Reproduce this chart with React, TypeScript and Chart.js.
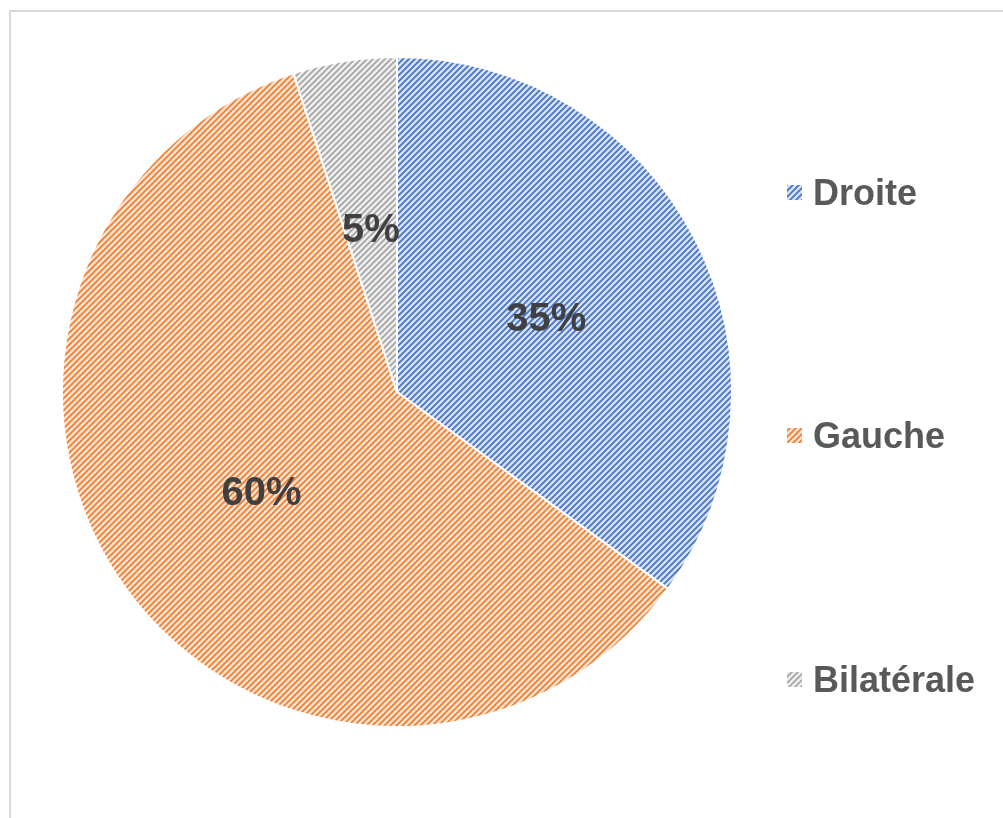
import React, { useEffect, useRef } from "react";
import { Chart, registerables } from "chart.js";

Chart.register(...registerables);

const categories = ["Droite", "Gauche", "Bilatérale"];
const values = [35, 60, 5];
const fgColors = ["#4472C4", "#ED7D31", "#A5A5A5"];
const bgColors = ["#d5e0f6", "#fde2d0", "#eeeeee"];

function makePattern(fg: string, bg: string): CanvasPattern | string {
  const size = 6;
  const c = document.createElement("canvas");
  c.width = size;
  c.height = size;
  const ctx = c.getContext("2d");
  if (!ctx) return fg;
  ctx.fillStyle = bg;
  ctx.fillRect(0, 0, size, size);
  ctx.strokeStyle = fg;
  ctx.lineWidth = 1.7;
  ctx.beginPath();
  ctx.moveTo(-1, size + 1);
  ctx.lineTo(size + 1, -1);
  ctx.moveTo(-2, 2);
  ctx.lineTo(2, -2);
  ctx.moveTo(size - 2, size + 2);
  ctx.lineTo(size + 2, size - 2);
  ctx.stroke();
  const p = ctx.createPattern(c, "repeat");
  return p || fg;
}

const FONT = '"Liberation Sans", Arial, sans-serif';

export default function App() {
  const ref = useRef<HTMLCanvasElement | null>(null);

  useEffect(() => {
    if (!ref.current) return;
    const patterns = fgColors.map((f, i) => makePattern(f, bgColors[i]));
    const total = values.reduce((a, b) => a + b, 0);

    const labelPlugin = {
      id: "pctLabels",
      afterDatasetsDraw(chart: any) {
        const ctx = chart.ctx;
        const meta = chart.getDatasetMeta(0);
        ctx.save();
        ctx.font = `bold 40px ${FONT}`;
        ctx.fillStyle = "#404040";
        ctx.textAlign = "center";
        ctx.textBaseline = "middle";
        meta.data.forEach((el: any, i: number) => {
          const pos = el.tooltipPosition();
          const pct = Math.round((values[i] / total) * 100) + "%";
          ctx.fillText(pct, pos.x, pos.y + 4);
        });
        ctx.restore();
      },
    };

    const legendPlugin = {
      id: "customLegend",
      afterDraw(chart: any) {
        const ctx = chart.ctx;
        const ys = [192.5, 435.5, 679.5];
        ctx.save();
        ctx.font = `bold 36px ${FONT}`;
        ctx.textAlign = "left";
        ctx.textBaseline = "middle";
        categories.forEach((cat, i) => {
          const y = ys[i];
          ctx.fillStyle = patterns[i];
          ctx.fillRect(787, y - 7.5, 15, 15);
          ctx.fillStyle = "#595959";
          ctx.fillText(cat, 813, y + 3);
        });
        ctx.restore();
      },
    };

    const chart = new Chart(ref.current, {
      type: "pie",
      data: {
        labels: categories,
        datasets: [
          {
            data: values,
            backgroundColor: patterns as any,
            borderColor: "#ffffff",
            borderWidth: 2,
          },
        ],
      },
      options: {
        animation: false,
        responsive: false,
        rotation: 0,
        layout: { padding: { left: 61, right: 270, top: 56, bottom: 90 } },
        plugins: {
          legend: { display: false },
          tooltip: { enabled: false },
        },
      },
      plugins: [labelPlugin, legendPlugin],
    });
    return () => chart.destroy();
  }, []);

  return (
    <div style={{ position: "fixed", left: 0, top: 0, width: 1003, height: 818, background: "#fff" }}>
      <div
        style={{
          position: "absolute",
          left: 9,
          top: 10,
          width: 994,
          height: 808,
          borderLeft: "2px solid #d9d9d9",
          borderTop: "2px solid #d9d9d9",
          boxSizing: "border-box",
        }}
      />
      <canvas ref={ref} width={1003} height={818} style={{ position: "absolute", left: 0, top: 0 }} />
    </div>
  );
}
